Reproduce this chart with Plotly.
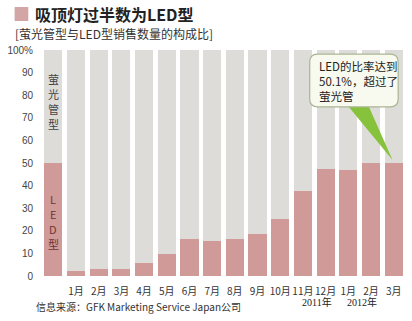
import plotly.graph_objects as go

# ---- data ----
month_labels = ["", "1月", "2月", "3月", "4月", "5月", "6月", "7月", "8月", "9月",
                "10月", "11月", "12月", "1月", "2月", "3月"]
led_share = [50, 2.2, 3.2, 3.2, 5.6, 9.6, 16.3, 15.6, 16.2, 18.4,
             25.1, 37.7, 47.2, 46.9, 49.9, 50.1]
fluor_share = [100 - v for v in led_share]
y_tick_vals = [0, 10, 20, 30, 40, 50, 60, 70, 80, 90, 100]
y_tick_text = ["0", "10", "20", "30", "40", "50", "60", "70", "80", "90", "100%"]
fluor_label_chars = ["萤", "光", "管", "型"]
led_label_chars = ["L", "E", "D", "型"]

x_idx = list(range(len(month_labels)))

LED_COLOR = "#cf9a97"
FLUOR_COLOR = "#dedcd9"
CJK = "Noto Sans CJK SC, sans-serif"

fig = go.Figure()
fig.add_trace(go.Bar(x=x_idx, y=led_share, marker=dict(color=LED_COLOR, line=dict(width=0)),
                     showlegend=False, hoverinfo="skip"))
fig.add_trace(go.Bar(x=x_idx, y=fluor_share, marker=dict(color=FLUOR_COLOR, line=dict(width=0)),
                     showlegend=False, hoverinfo="skip"))

W, H = 412, 321
L, R, T, B = 34, 7, 50, 45

fig.update_layout(
    width=W, height=H, barmode="stack", bargap=0.2,
    margin=dict(l=L, r=R, t=T, b=B),
    paper_bgcolor="white", plot_bgcolor="white",
    font=dict(family=CJK, color="#333"),
    xaxis=dict(range=[-0.5, len(month_labels) - 0.5], tickmode="array",
               tickvals=x_idx[1:], ticktext=month_labels[1:], showgrid=False,
               zeroline=False, showline=False, ticks="", tickangle=0,
               ticklabelstandoff=8,
               tickfont=dict(size=10, color="#333", family=CJK)),
    yaxis=dict(range=[0, 100], tickmode="array", tickvals=y_tick_vals,
               ticktext=y_tick_text, showgrid=False, zeroline=False, showline=False,
               ticks="", ticklabelstandoff=8,
               tickfont=dict(size=10, color="#444",
                             family="Liberation Sans Narrow, Liberation Sans, sans-serif")),
)

plot_w = W - L - R
plot_h = H - T - B

def px(xp):
    return (xp - L) / plot_w

def py(yp):
    return (H - B - yp) / plot_h

# pink square next to title
fig.add_shape(type="rect", xref="paper", yref="paper",
              x0=px(6), x1=px(20), y0=py(21), y1=py(7),
              fillcolor="#d4a5a5", line=dict(width=0))

fig.add_annotation(xref="paper", yref="paper", x=px(25), y=py(14), xanchor="left",
                   yanchor="middle", showarrow=False,
                   text="<b>吸顶灯过半数为LED型</b>", font=dict(size=16, color="#222", family=CJK))
fig.add_annotation(xref="paper", yref="paper", x=px(4), y=py(33), xanchor="left",
                   yanchor="middle", showarrow=False,
                   text="[萤光管型与LED型销售数量的构成比]", font=dict(size=12, color="#333", family=CJK))

# vertical labels in the first bar (one character per annotation)
for i, ch in enumerate(fluor_label_chars):
    fig.add_annotation(x=0, y=87 - i * 6.6, showarrow=False, text=ch,
                       font=dict(size=11, color="#444", family=CJK))
for i, ch in enumerate(led_label_chars):
    fig.add_annotation(x=0, y=34 - i * 6.6, showarrow=False, text=ch,
                       font=dict(size=11, color="#6e3434", family=CJK))

# callout bubble
bx0, bx1, by0, by1 = 11.3, 15.2, 74.8, 98.2
rx, ry = 0.35, 3.5
path = (f"M {bx0+rx},{by1} L {bx1-rx},{by1} Q {bx1},{by1} {bx1},{by1-ry} "
        f"L {bx1},{by0+ry} Q {bx1},{by0} {bx1-rx},{by0} L {bx0+rx},{by0} "
        f"Q {bx0},{by0} {bx0},{by0+ry} L {bx0},{by1-ry} Q {bx0},{by1} {bx0+rx},{by1} Z")
tip_x = x_idx[-1] - 0.05
tip_y = led_share[-1] + 1.2
fig.add_shape(type="path", path=f"M 13.0,{by0+0.3} L 13.9,{by0+0.3} L {tip_x},{tip_y} Z",
              fillcolor="#86c23c", line=dict(width=0))
fig.add_shape(type="path", path=path, fillcolor="#f8faef",
              line=dict(color="#a9b593", width=1.2))
fig.add_annotation(x=11.6, y=86.5, xanchor="left", yanchor="middle", showarrow=False,
                   align="left", text="LED的比率达到<br>50.1%，超过了<br>萤光管",
                   font=dict(size=11.5, color="#222", family=CJK))

# source and year labels
fig.add_annotation(xref="paper", yref="paper", x=px(26), y=py(306), xanchor="left",
                   yanchor="middle", showarrow=False,
                   text="信息来源：GFK Marketing Service Japan公司",
                   font=dict(size=10, color="#333", family=CJK))
fig.add_annotation(xref="paper", yref="paper", x=px(298), y=py(302), xanchor="left",
                   yanchor="middle", showarrow=False, text="2011年",
                   font=dict(size=10, color="#222", family="Liberation Serif, Noto Sans CJK SC"))
fig.add_annotation(xref="paper", yref="paper", x=px(344), y=py(302), xanchor="left",
                   yanchor="middle", showarrow=False, text="2012年",
                   font=dict(size=10, color="#222", family="Liberation Serif, Noto Sans CJK SC"))

fig.write_html("out.html")
